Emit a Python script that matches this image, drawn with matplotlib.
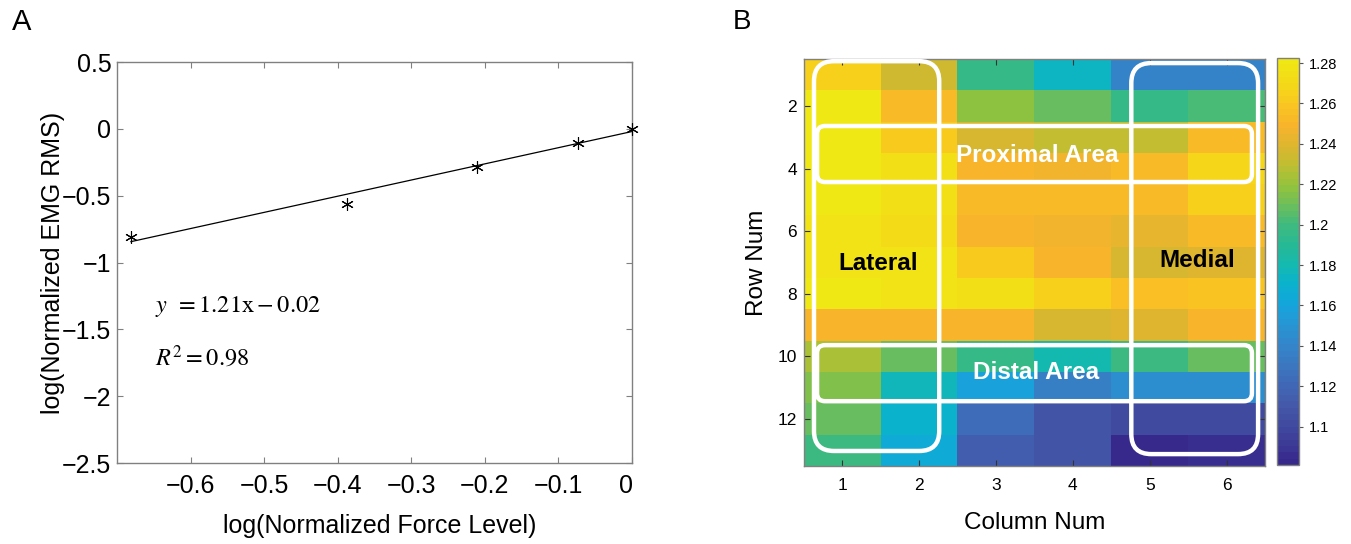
import numpy as np
import matplotlib
matplotlib.use("Agg")
import matplotlib.pyplot as plt
from matplotlib.colors import ListedColormap, LinearSegmentedColormap
from matplotlib.patches import FancyBboxPatch
from matplotlib.transforms import ScaledTranslation

# ---------------- Panel A: log-log EMG vs force ----------------
force_log = [-0.681, -0.388, -0.211, -0.074, 0.0]
emg_log = [-0.807, -0.565, -0.286, -0.109, 0.0]
fit_slope = 1.21
fit_intercept = -0.02
r_squared = 0.98
a_xticks = [-0.6, -0.5, -0.4, -0.3, -0.2, -0.1, 0]
a_xticklabels = ["\u22120.6", "\u22120.5", "\u22120.4", "\u22120.3", "\u22120.2", "\u22120.1", "0"]
a_yticks = [-2.5, -2.0, -1.5, -1.0, -0.5, 0.0, 0.5]
a_yticklabels = ["\u22122.5", "\u22122", "\u22121.5", "\u22121", "\u22120.5", "0", "0.5"]

# ---------------- Panel B: electrode grid map ----------------
row_nums = list(range(1, 14))
col_nums = list(range(1, 7))
row01 = [1.265, 1.235, 1.195, 1.175, 1.140, 1.140]
row02 = [1.281, 1.252, 1.218, 1.208, 1.195, 1.203]
row03 = [1.281, 1.262, 1.237, 1.232, 1.232, 1.252]
row04 = [1.281, 1.275, 1.250, 1.247, 1.252, 1.268]
row05 = [1.281, 1.274, 1.253, 1.253, 1.253, 1.264]
row06 = [1.278, 1.270, 1.250, 1.246, 1.242, 1.252]
row07 = [1.278, 1.277, 1.262, 1.250, 1.238, 1.240]
row08 = [1.2825, 1.278, 1.275, 1.264, 1.256, 1.258]
row09 = [1.250, 1.250, 1.250, 1.237, 1.241, 1.250]
row10 = [1.223, 1.208, 1.195, 1.181, 1.200, 1.208]
row11 = [1.216, 1.177, 1.158, 1.137, 1.145, 1.145]
row12 = [1.208, 1.170, 1.123, 1.107, 1.100, 1.100]
row13 = [1.200, 1.165, 1.113, 1.107, 1.081, 1.086]
b_cbar_ticks = [1.10, 1.12, 1.14, 1.16, 1.18, 1.20, 1.22, 1.24, 1.26, 1.28]
b_cbar_labels = ["1.1", "1.12", "1.14", "1.16", "1.18", "1.2", "1.22", "1.24", "1.26", "1.28"]
b_row_ticks = [2, 4, 6, 8, 10, 12]
b_clim = (1.081, 1.2825)

# parula-style colour ramp (value, RGB 0-255)
ramp_values = [1.081, 1.09, 1.10, 1.11, 1.12, 1.13, 1.14, 1.15, 1.16, 1.17, 1.18,
               1.19, 1.20, 1.21, 1.22, 1.23, 1.24, 1.25, 1.26, 1.27, 1.2825]
ramp_colors = [(55, 40, 140), (60, 58, 150), (65, 75, 160), (68, 90, 170), (64, 105, 182),
               (58, 120, 192), (52, 133, 202), (38, 150, 212), (20, 165, 220), (10, 178, 205),
               (20, 185, 175), (38, 185, 150), (62, 186, 128), (108, 190, 92), (148, 195, 60),
               (192, 190, 50), (220, 182, 48), (248, 180, 44), (250, 196, 34), (245, 215, 25),
               (240, 232, 20)]
span = ramp_values[-1] - ramp_values[0]
ramp = LinearSegmentedColormap.from_list(
    "parula_like",
    [((v - ramp_values[0]) / span, tuple(c / 255 for c in rgb))
     for v, rgb in zip(ramp_values, ramp_colors)])
parula = ListedColormap(ramp(np.linspace(0, 1, 64)), name="parula")

sans = ["Liberation Sans", "DejaVu Sans"]
plt.rcParams["mathtext.fontset"] = "stix"

W, H = 1351, 544
fig = plt.figure(figsize=(W / 100, H / 100), dpi=100)
fig.patch.set_facecolor("white")


def frac(left, top, right, bottom):
    return [left / W, 1 - bottom / H, (right - left) / W, (bottom - top) / H]


frame_col = "#808080"

# ---------------- Panel A ----------------
axA = fig.add_axes(frac(117, 62, 632, 463))
axA.plot(force_log, emg_log, linestyle="none", marker=(6, 2, 0), color="black",
         markersize=9, markeredgewidth=0.8, clip_on=False, zorder=3)
x_fit = np.array([min(force_log), max(force_log)])
axA.plot(x_fit, fit_slope * x_fit + fit_intercept, color="black", lw=0.9)
axA.set_xlim(-0.7, 0)
axA.set_ylim(-2.5, 0.5)
axA.set_xticks(a_xticks)
axA.set_xticklabels(a_xticklabels, family=sans, fontsize=18)
axA.set_yticks(a_yticks)
axA.set_yticklabels(a_yticklabels, family=sans, fontsize=18)
axA.tick_params(direction="in", length=4, width=0.8, color=frame_col,
                top=True, right=True)
axA.tick_params(axis="y", pad=4)
axA.tick_params(axis="x", pad=8)
for s in axA.spines.values():
    s.set_color(frame_col)
    s.set_linewidth(1.0)
# nudge the last x label inward
last = axA.get_xticklabels()[-1]
last.set_transform(last.get_transform() + ScaledTranslation(-6 / 100, 0, fig.dpi_scale_trans))
axA.set_xlabel("log(Normalized Force Level)", family=sans, fontsize=18)
axA.xaxis.set_label_coords(0.51, -0.128)
axA.set_ylabel("log(Normalized EMG RMS)", family=sans, fontsize=18)
axA.yaxis.set_label_coords(-0.1, 0.5)
sign = "-" if fit_intercept < 0 else "+"
axA.text(-0.648, -1.33, r"$y\ \,= %.2f\mathrm{x} %s %.2f$" % (fit_slope, sign, abs(fit_intercept)),
         fontsize=17.5, va="center", ha="left")
axA.text(-0.648, -1.71, r"$R^2 = %.2f$" % r_squared, fontsize=17.5, va="center", ha="left")
fig.text(12 / W, 1 - 22 / H, "A", family=sans, fontsize=21, va="center", ha="left")

# ---------------- Panel B ----------------
grid = np.array([row01, row02, row03, row04, row05, row06, row07,
                 row08, row09, row10, row11, row12, row13])
axB = fig.add_axes(frac(804, 59, 1265, 466))
im = axB.imshow(grid, cmap=parula, vmin=b_clim[0], vmax=b_clim[1],
                extent=(0.5, len(col_nums) + 0.5, len(row_nums) + 0.5, 0.5),
                aspect="auto", interpolation="nearest")
axB.set_xlim(0.5, len(col_nums) + 0.5)
axB.set_ylim(len(row_nums) + 0.5, 0.5)
axB.set_xticks(col_nums)
axB.set_xticklabels([str(c) for c in col_nums], family=sans, fontsize=12.5)
axB.set_yticks(b_row_ticks)
axB.set_yticklabels([str(r) for r in b_row_ticks], family=sans, fontsize=12.5)
axB.tick_params(direction="in", length=4, width=0.8, color="#333333",
                top=True, right=True)
axB.tick_params(axis="x", pad=9)
axB.tick_params(axis="y", pad=5)
for s in axB.spines.values():
    s.set_color(frame_col)
    s.set_linewidth(1.0)
axB.set_xlabel("Column Num", family=sans, fontsize=17.5)
axB.xaxis.set_label_coords(0.5, -0.112)
axB.set_ylabel("Row Num", family=sans, fontsize=17.5)
axB.yaxis.set_label_coords(-0.078, 0.5)

# white rounded outlines for the regions
px_x = 461 / len(col_nums)
px_y = 407 / len(row_nums)
asp = px_x / px_y


def region(x0, y0, x1, y1, r_px):
    box = FancyBboxPatch((x0, y0), x1 - x0, y1 - y0,
                         boxstyle="round,pad=0,rounding_size=%f" % (r_px / px_x),
                         mutation_aspect=asp, fc="none", ec="white", lw=3.2,
                         clip_on=False, zorder=3)
    axB.add_patch(box)


region(0.63, 0.57, 2.26, 13.02, 20)    # lateral columns
region(4.76, 0.63, 6.41, 13.12, 20)    # medial columns
region(0.67, 2.64, 6.33, 4.43, 8)      # proximal rows
region(0.67, 9.64, 6.33, 11.43, 8)     # distal rows

axB.text(1.46, 7.02, "Lateral", family=sans, fontsize=17.5, fontweight="bold",
         color="black", ha="center", va="center", zorder=4)
axB.text(5.62, 6.95, "Medial", family=sans, fontsize=17.5, fontweight="bold",
         color="black", ha="center", va="center", zorder=4)
axB.text(3.53, 3.58, "Proximal Area", family=sans, fontsize=17.5, fontweight="bold",
         color="white", ha="center", va="center", zorder=4)
axB.text(3.52, 10.5, "Distal Area", family=sans, fontsize=17.5, fontweight="bold",
         color="white", ha="center", va="center", zorder=4)
fig.text(733 / W, 1 - 22 / H, "B", family=sans, fontsize=20, va="center", ha="left")

# colorbar
cax = fig.add_axes(frac(1277, 58, 1299, 465))
cb = fig.colorbar(im, cax=cax, ticks=b_cbar_ticks)
cb.ax.set_yticklabels(b_cbar_labels, family=sans, fontsize=10.5)
cb.ax.tick_params(direction="out", length=3, width=0.8, color="#555555", pad=4)
cb.outline.set_edgecolor(frame_col)
cb.outline.set_linewidth(1.0)

fig.savefig("out.png", dpi=100, facecolor="white")
